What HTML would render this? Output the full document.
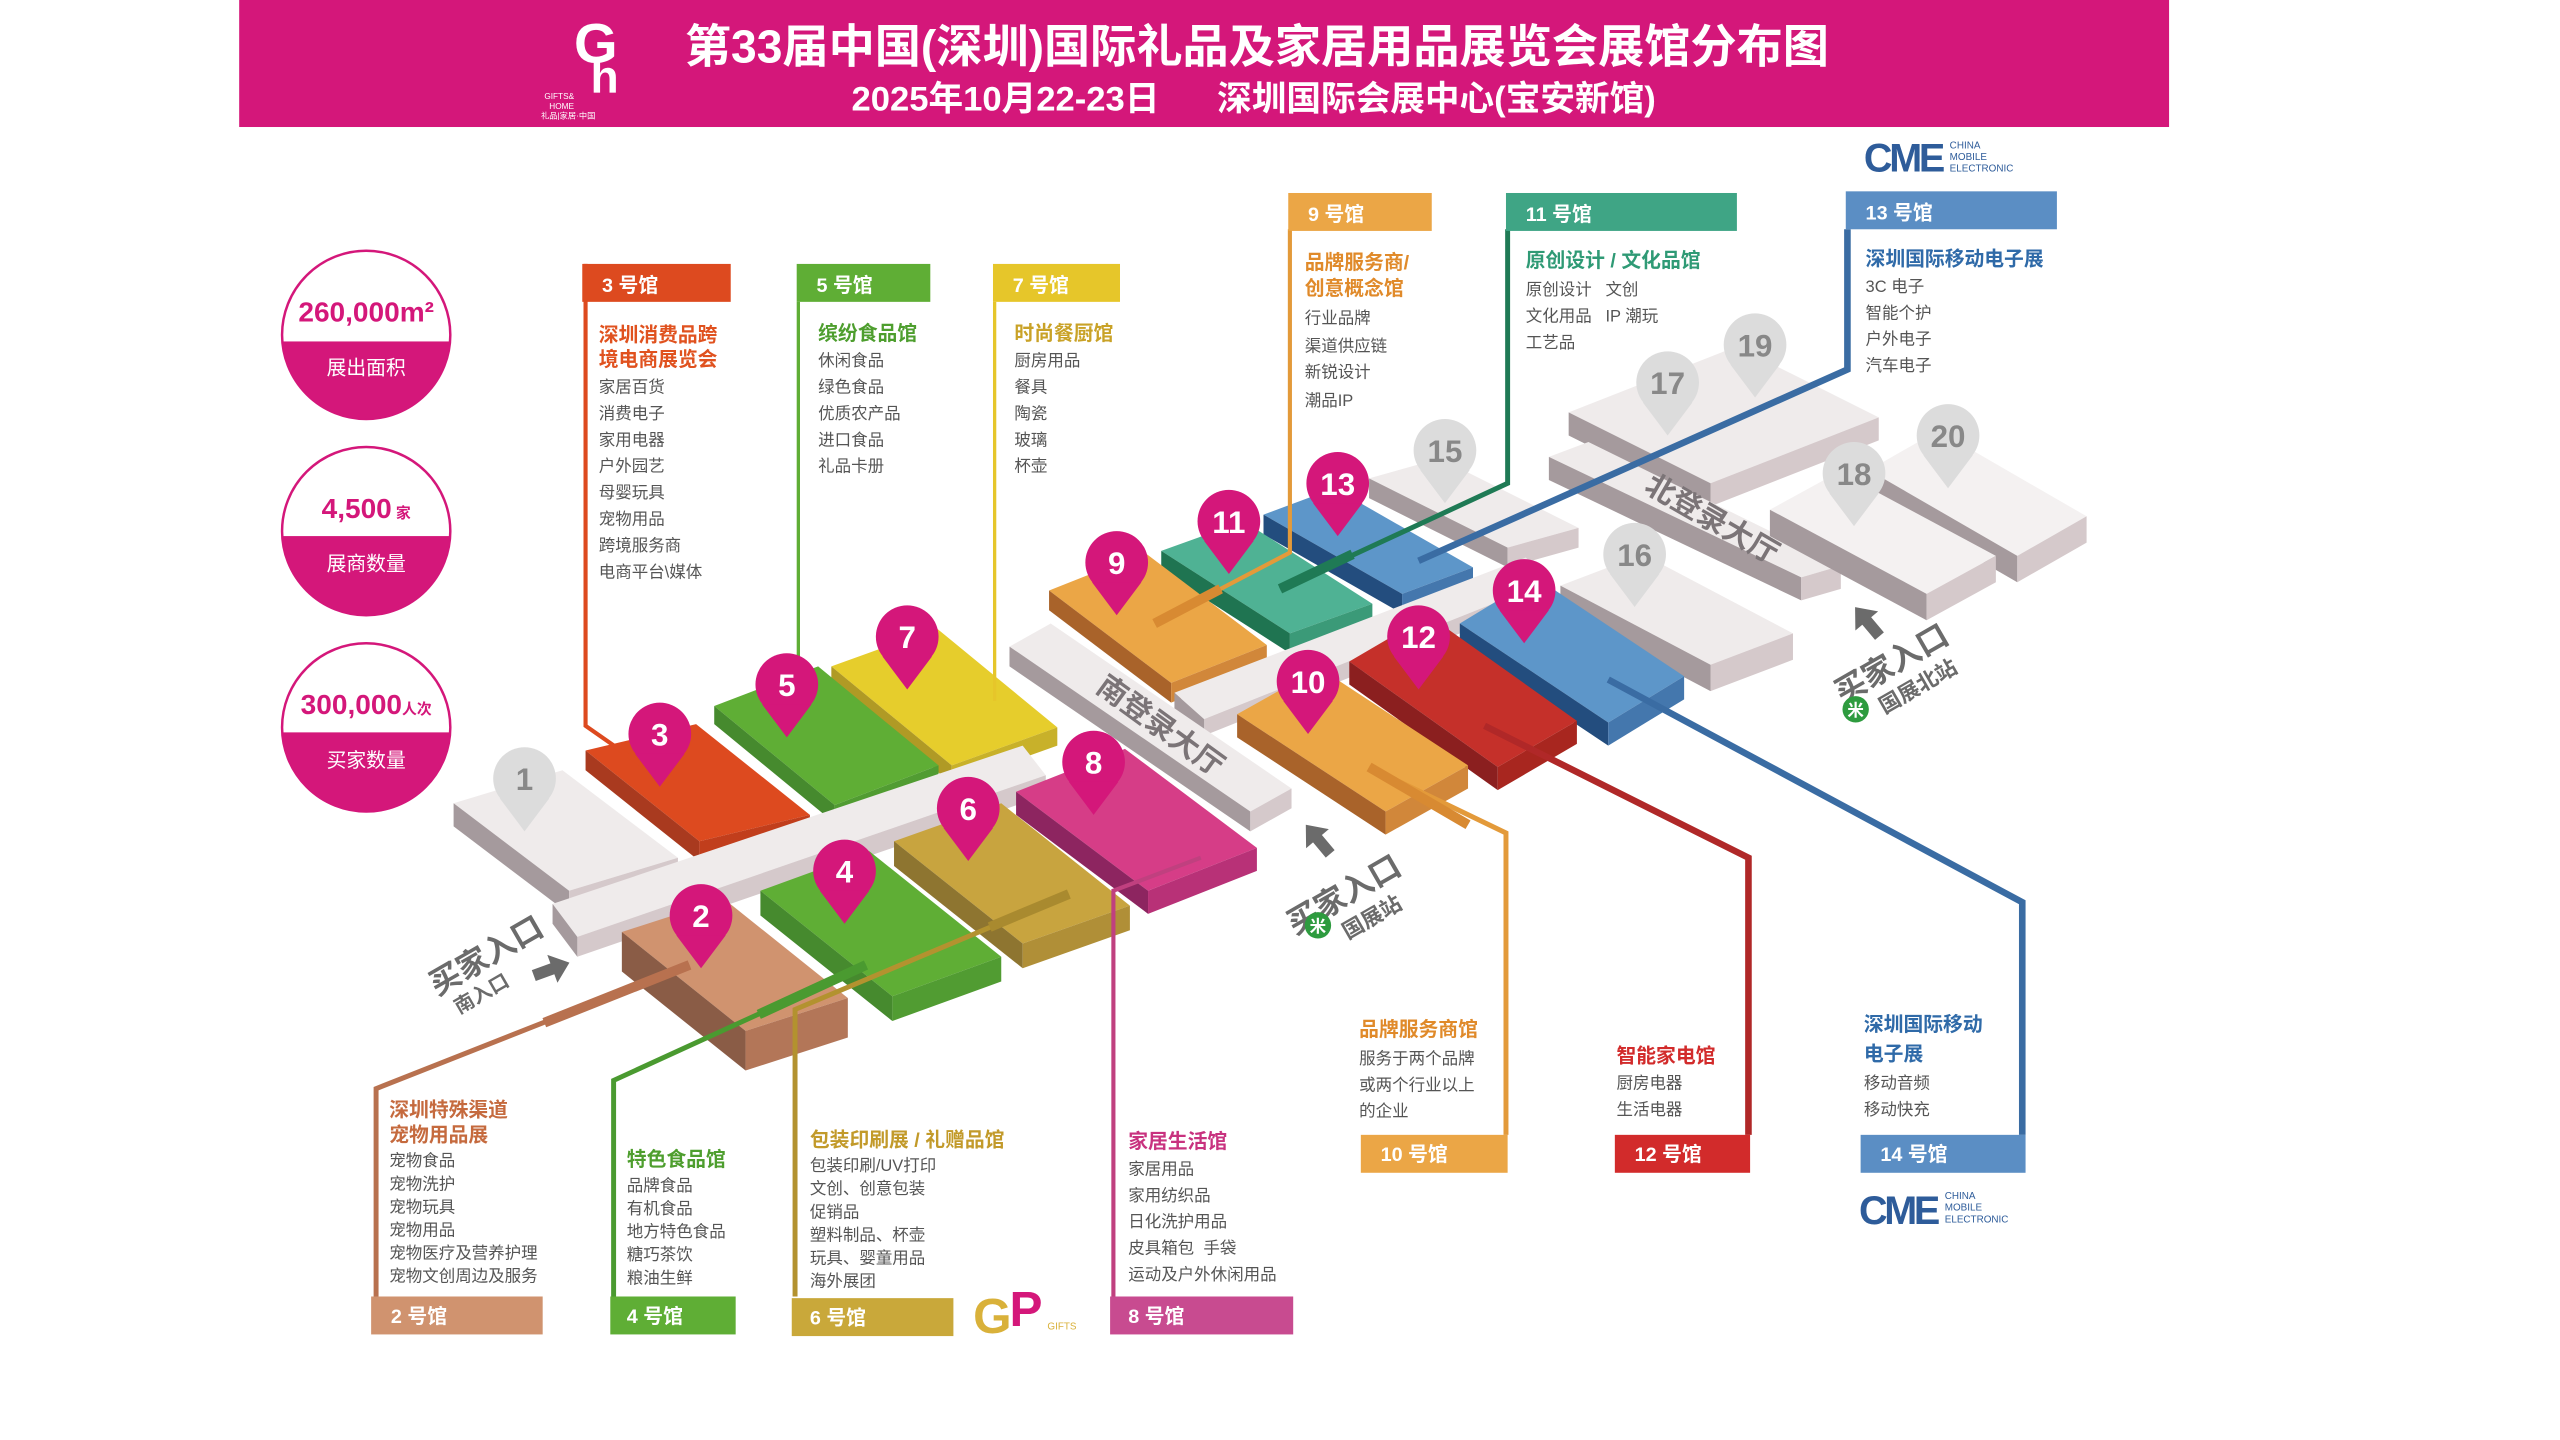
<!DOCTYPE html>
<html><head><meta charset="utf-8"><style>
html,body{margin:0;padding:0;background:#fff;}
svg{display:block;}
text{font-family:"Liberation Sans","Noto Sans CJK SC","WenQuanYi Zen Hei",sans-serif;}
.b{font-weight:bold;}
.it{font-size:10px;fill:#555;}
.hd{font-size:12px;fill:#fff;font-weight:bold;}
</style></head><body>
<svg width="2560" height="1440" viewBox="0 0 1552 873" preserveAspectRatio="none" xmlns="http://www.w3.org/2000/svg">
<rect width="1552" height="873" fill="#fff"/>
<!-- header -->
<rect x="145" y="0" width="1170" height="77" fill="#d4177a"/>
<text x="348" y="38" font-size="34" fill="#fff" class="b" font-family="Liberation Serif">G</text>
<text x="358" y="56" font-size="28" fill="#fff" class="b">h</text>
<text x="330" y="60" font-size="5" fill="#fff">GIFTS&amp;</text>
<text x="333" y="66" font-size="5" fill="#fff">HOME</text>
<text x="328" y="72" font-size="5" fill="#fff">礼品|家居·中国</text>
<text x="762" y="38" font-size="28" fill="#fff" class="b" text-anchor="middle">第33届中国(深圳)国际礼品及家居用品展览会展馆分布图</text>
<text x="760" y="67" font-size="21" fill="#fff" class="b" text-anchor="middle" xml:space="preserve">2025年10月22-23日      深圳国际会展中心(宝安新馆)</text>

<!-- stats circles -->
<g>
<defs>
<clipPath id="c1"><circle cx="222" cy="203" r="51"/></clipPath>
<clipPath id="c2"><circle cx="222" cy="322" r="51"/></clipPath>
<clipPath id="c3"><circle cx="222" cy="441" r="51"/></clipPath>
<polygon id="arr" points="0,-13 9,-2 3.5,-2 3.5,10 -3.5,10 -3.5,-2 -9,-2"/>
</defs>
<circle cx="222" cy="203" r="51" fill="#fff" stroke="#d4177a" stroke-width="1.5"/>
<rect x="160" y="207" width="130" height="60" fill="#d4177a" clip-path="url(#c1)"/>
<text x="222" y="195" font-size="17" fill="#d4177a" class="b" text-anchor="middle">260,000m²</text>
<text x="222" y="227" font-size="12" fill="#fff" text-anchor="middle">展出面积</text>
<circle cx="222" cy="322" r="51" fill="#fff" stroke="#d4177a" stroke-width="1.5"/>
<rect x="160" y="325" width="130" height="60" fill="#d4177a" clip-path="url(#c2)"/>
<text x="222" y="314" font-size="17" fill="#d4177a" class="b" text-anchor="middle">4,500<tspan font-size="9"> 家</tspan></text>
<text x="222" y="346" font-size="12" fill="#fff" text-anchor="middle">展商数量</text>
<circle cx="222" cy="441" r="51" fill="#fff" stroke="#d4177a" stroke-width="1.5"/>
<rect x="160" y="444" width="130" height="60" fill="#d4177a" clip-path="url(#c3)"/>
<text x="222" y="433" font-size="17" fill="#d4177a" class="b" text-anchor="middle">300,000<tspan font-size="9">人次</tspan></text>
<text x="222" y="465" font-size="12" fill="#fff" text-anchor="middle">买家数量</text>
</g>

<!-- north grey blocks -->
<g>
<polygon points="951,250 1053,210 1139,253 1037,293" fill="#efebeb"/><polygon points="951,250 1037,293 1037,307 951,264" fill="#a59a9d"/><polygon points="1037,293 1139,253 1139,267 1037,307" fill="#d5c9cb"/>
<polygon points="1133,285 1175,261 1265,313 1223,337" fill="#f4f1f1"/><polygon points="1133,285 1223,337 1223,353 1133,301" fill="#a59a9d"/><polygon points="1223,337 1265,313 1265,329 1223,353" fill="#d5c9cb"/>
<polygon points="830,290 873,278 957,320 914,332" fill="#efebeb"/><polygon points="830,290 914,332 914,344 830,302" fill="#a59a9d"/><polygon points="914,332 957,320 957,332 914,344" fill="#d5c9cb"/>
<polygon points="939,277 963,268 1116,343 1092,350" fill="#efebeb"/><polygon points="939,277 1092,350 1092,364 939,291" fill="#a59a9d"/><polygon points="1092,350 1116,343 1116,357 1092,364" fill="#d5c9cb"/>
<polygon points="1073,309 1115,286 1210,337 1168,360" fill="#f4f1f1"/><polygon points="1073,309 1168,360 1168,376 1073,325" fill="#a59a9d"/><polygon points="1168,360 1210,337 1210,353 1168,376" fill="#d5c9cb"/>
<text x="1035" y="320" font-size="18" fill="#7b7477" class="b" transform="rotate(30 1035 320)" text-anchor="middle">北登录大厅</text>
</g>
<!-- north row halls 13,11,9 -->
<polygon points="766,312 809,296 893,344 850,360" fill="#5d96c9"/><polygon points="766,312 850,360 850,372 766,324" fill="#234d7e"/><polygon points="850,360 893,344 893,356 850,372" fill="#4477ad"/>
<polygon points="704,334 754,316 832,366 782,384" fill="#4fb294"/><polygon points="704,334 782,384 782,396 704,346" fill="#1f7451"/><polygon points="782,384 832,366 832,378 782,396" fill="#3b9a78"/>
<polygon points="636,358 694,335 768,391 710,414" fill="#eba646"/><polygon points="636,358 710,414 710,426 636,370" fill="#a9632a"/><polygon points="710,414 768,391 768,403 710,426" fill="#d1873a"/>
<!-- north corridor -->
<polygon points="712,420 925,338 940,352 730,436" fill="#efebeb"/><polygon points="730,436 940,352 940,362 730,446" fill="#d5c9cb"/><polygon points="712,420 730,436 730,446 712,430" fill="#a59a9d"/>
<!-- hall 16 -->
<polygon points="946,355 996,336 1087,384 1037,403" fill="#efebeb"/><polygon points="946,355 1037,403 1037,419 946,371" fill="#a59a9d"/><polygon points="1037,403 1087,384 1087,400 1037,419" fill="#d5c9cb"/>
<!-- 14,12,10 -->
<polygon points="885,378 931,350 1021,410 975,438" fill="#5d96c9"/><polygon points="885,378 975,438 975,452 885,392" fill="#234d7e"/><polygon points="975,438 1021,410 1021,424 975,452" fill="#4477ad"/>
<polygon points="818,401 866,373 956,437 908,465" fill="#c5302a"/><polygon points="818,401 908,465 908,479 818,415" fill="#8b1f1f"/><polygon points="908,465 956,437 956,451 908,479" fill="#a8261f"/>
<polygon points="750,433 800,405 890,464 840,492" fill="#eba646"/><polygon points="750,433 840,492 840,506 750,447" fill="#a9632a"/><polygon points="840,492 890,464 890,478 840,506" fill="#d1873a"/>
<!-- 南登录大厅 -->
<polygon points="612,392 637,378 783,478 758,492" fill="#efebeb"/><polygon points="612,392 758,492 758,504 612,404" fill="#a59a9d"/><polygon points="758,492 783,478 783,490 758,504" fill="#d5c9cb"/>
<text x="700" y="445" font-size="18" fill="#7b7477" class="b" transform="rotate(36 700 445)" text-anchor="middle">南登录大厅</text>
<!-- south back row 7,5,3,1 -->
<polygon points="504,404 568,381 641,441 577,464" fill="#e6cd2c"/><polygon points="504,404 577,464 577,475 504,415" fill="#b09a25"/><polygon points="577,464 641,441 641,452 577,475" fill="#c8b12a"/>
<polygon points="433,428 496,404 569,464 506,488" fill="#5fae35"/><polygon points="433,428 506,488 506,499 433,439" fill="#468a2e"/><polygon points="506,488 569,464 569,475 506,499" fill="#519c32"/>
<polygon points="355,455 422,439 491,494 424,510" fill="#dd4a1f"/><polygon points="355,455 424,510 424,522 355,467" fill="#a93a1f"/><polygon points="424,510 491,494 491,506 424,522" fill="#c13e1c"/>
<polygon points="275,487 341,467 411,520 345,540" fill="#efebeb"/><polygon points="275,487 345,540 345,554 275,501" fill="#a59a9d"/><polygon points="345,540 411,520 411,534 345,554" fill="#d5c9cb"/>
<!-- south corridor -->
<polygon points="335,548 620,452 634,470 350,568" fill="#efebeb"/><polygon points="350,568 634,470 634,482 350,580" fill="#d5c9cb"/><polygon points="335,548 350,568 350,580 335,560" fill="#a59a9d"/>
<!-- front row 8,6,4,2 -->
<polygon points="616,480 682,454 762,514 696,540" fill="#d63d87"/><polygon points="616,480 696,540 696,554 616,494" fill="#8d2560"/><polygon points="696,540 762,514 762,528 696,554" fill="#b83177"/>
<polygon points="542,510 607,487 685,549 620,572" fill="#c8a43f"/><polygon points="542,510 620,572 620,587 542,525" fill="#8e7530"/><polygon points="620,572 685,549 685,564 620,587" fill="#b08f37"/>
<polygon points="461,540 527,516 607,580 541,604" fill="#5fae35"/><polygon points="461,540 541,604 541,619 461,555" fill="#468a2e"/><polygon points="541,604 607,580 607,595 541,619" fill="#519c32"/>
<polygon points="377,565 439,545 514,605 452,625" fill="#d0936f"/><polygon points="377,565 452,625 452,649 377,589" fill="#8a5c46"/><polygon points="452,625 514,605 514,629 452,649" fill="#b37658"/>

<!-- leader lines -->
<g fill="none" stroke-linejoin="miter">
<polyline points="355,160 355,440 405,475" stroke="#dd4a1f" stroke-width="2.5"/>
<polyline points="484,183 484,398" stroke="#5fae35" stroke-width="2"/>
<polyline points="603,183 603,425" stroke="#e6c62a" stroke-width="2"/>
<polyline points="782,139 782,335 700,378" stroke="#e39a3a" stroke-width="2.5"/>
<line x1="740" y1="357" x2="700" y2="378" stroke="#d88a32" stroke-width="6"/>
<polyline points="914,139 914,293 776,357" stroke="#1f7a55" stroke-width="3"/>
<line x1="820" y1="336" x2="776" y2="357" stroke="#1f7a55" stroke-width="6"/>
<polyline points="1120,139 1120,224 860,340" stroke="#3a6ca3" stroke-width="4"/>
<polyline points="418,585 228,660 228,786" stroke="#b8714f" stroke-width="3"/>
<line x1="418" y1="585" x2="330" y2="620" stroke="#b8714f" stroke-width="6"/>
<polyline points="525,585 372,655 372,786" stroke="#4a9a30" stroke-width="3"/>
<line x1="525" y1="585" x2="460" y2="615" stroke="#4a9a30" stroke-width="6"/>
<polyline points="648,542 482,612 482,786" stroke="#b3922f" stroke-width="3"/>
<line x1="648" y1="542" x2="600" y2="562" stroke="#a98a2f" stroke-width="6"/>
<polyline points="728,520 675,540 675,786" stroke="#c0407f" stroke-width="2.5"/>
<polyline points="830,465 913,505 913,688" stroke="#e39a3a" stroke-width="3"/>
<line x1="830" y1="465" x2="890" y2="500" stroke="#d88a32" stroke-width="6"/>
<polyline points="900,440 1060,520 1060,688" stroke="#b02828" stroke-width="4"/>
<polyline points="975,412 1226,547 1226,688" stroke="#3a6ca3" stroke-width="4"/>
</g>

<!-- pins -->
<g font-weight="bold" text-anchor="middle" font-size="19">
<g fill="#dcdcdc"><circle cx="318" cy="472" r="19"/><polygon points="303,484 333,484 318,504"/>
<circle cx="876" cy="273" r="19"/><polygon points="861,285 891,285 876,305"/>
<circle cx="1011" cy="232" r="19"/><polygon points="996,244 1026,244 1011,264"/>
<circle cx="1064" cy="209" r="19"/><polygon points="1049,221 1079,221 1064,241"/>
<circle cx="991" cy="336" r="19"/><polygon points="976,348 1006,348 991,368"/>
<circle cx="1124" cy="287" r="19"/><polygon points="1109,299 1139,299 1124,319"/>
<circle cx="1181" cy="264" r="19"/><polygon points="1166,276 1196,276 1181,296"/></g>
<g fill="#888"><text x="318" y="479">1</text><text x="876" y="280">15</text><text x="1011" y="239">17</text><text x="1064" y="216">19</text><text x="991" y="343">16</text><text x="1124" y="294">18</text><text x="1181" y="271">20</text></g>
<g fill="#d4177a">
<circle cx="400" cy="445" r="19"/><polygon points="385,457 415,457 400,477"/>
<circle cx="477" cy="415" r="19"/><polygon points="462,427 492,427 477,447"/>
<circle cx="550" cy="386" r="19"/><polygon points="535,398 565,398 550,418"/>
<circle cx="425" cy="555" r="19"/><polygon points="410,567 440,567 425,587"/>
<circle cx="512" cy="528" r="19"/><polygon points="497,540 527,540 512,560"/>
<circle cx="587" cy="490" r="19"/><polygon points="572,502 602,502 587,522"/>
<circle cx="663" cy="462" r="19"/><polygon points="648,474 678,474 663,494"/>
<circle cx="677" cy="341" r="19"/><polygon points="662,353 692,353 677,373"/>
<circle cx="745" cy="316" r="19"/><polygon points="730,328 760,328 745,348"/>
<circle cx="811" cy="293" r="19"/><polygon points="796,305 826,305 811,325"/>
<circle cx="793" cy="413" r="19"/><polygon points="778,425 808,425 793,445"/>
<circle cx="860" cy="386" r="19"/><polygon points="845,398 875,398 860,418"/>
<circle cx="924" cy="358" r="19"/><polygon points="909,370 939,370 924,390"/>
</g>
<g fill="#fff"><text x="400" y="452">3</text><text x="477" y="422">5</text><text x="550" y="393">7</text><text x="425" y="562">2</text><text x="512" y="535">4</text><text x="587" y="497">6</text><text x="663" y="469">8</text><text x="677" y="348">9</text><text x="745" y="323">11</text><text x="811" y="300">13</text><text x="793" y="420">10</text><text x="860" y="393">12</text><text x="924" y="365">14</text></g>
</g>

<!-- entrances -->
<g fill="#6b6b6b" font-weight="bold">
<text x="298" y="585" font-size="19" transform="rotate(-30 298 585)" text-anchor="middle">买家入口</text>
<text x="294" y="606" font-size="12" transform="rotate(-30 294 606)" text-anchor="middle">南入口</text>
<use href="#arr" transform="translate(333,588) rotate(70)"/>
<use href="#arr" transform="translate(800,510) rotate(-40)"/>
<text x="818" y="548" font-size="19" transform="rotate(-30 818 548)" text-anchor="middle">买家入口</text>
<circle cx="799" cy="561" r="8" fill="#2e9b3f"/><text x="799" y="565" font-size="10" fill="#fff" text-anchor="middle">米</text>
<text x="834" y="560" font-size="13" transform="rotate(-30 834 560)" text-anchor="middle">国展站</text>
<use href="#arr" transform="translate(1133,378) rotate(-40)"/>
<text x="1150" y="408" font-size="19" transform="rotate(-30 1150 408)" text-anchor="middle">买家入口</text>
<circle cx="1125" cy="430" r="8" fill="#2e9b3f"/><text x="1125" y="434" font-size="10" fill="#fff" text-anchor="middle">米</text>
<text x="1165" y="420" font-size="13" transform="rotate(-30 1165 420)" text-anchor="middle">国展北站</text>
</g>

<!-- top labels -->
<rect x="353" y="160" width="90" height="23" fill="#dd4a1f"/><text x="365" y="177" class="hd">3 号馆</text>
<text x="363" y="207" font-size="12" fill="#e0521f" class="b">深圳消费品跨</text>
<text x="363" y="222" font-size="12" fill="#e0521f" class="b">境电商展览会</text>
<g class="it"><text x="363" y="238" class="it">家居百货</text><text x="363" y="254" class="it">消费电子</text><text x="363" y="270" class="it">家用电器</text><text x="363" y="286" class="it">户外园艺</text><text x="363" y="302" class="it">母婴玩具</text><text x="363" y="318" class="it">宠物用品</text><text x="363" y="334" class="it">跨境服务商</text><text x="363" y="350" class="it">电商平台\媒体</text></g>

<rect x="483" y="160" width="81" height="23" fill="#5fae35"/><text x="495" y="177" class="hd">5 号馆</text>
<text x="496" y="206" font-size="12" fill="#4e9e2e" class="b">缤纷食品馆</text>
<text x="496" y="222" class="it">休闲食品</text><text x="496" y="238" class="it">绿色食品</text><text x="496" y="254" class="it">优质农产品</text><text x="496" y="270" class="it">进口食品</text><text x="496" y="286" class="it">礼品卡册</text>

<rect x="602" y="160" width="77" height="23" fill="#e6c62a"/><text x="614" y="177" class="hd">7 号馆</text>
<text x="615" y="206" font-size="12" fill="#c9a227" class="b">时尚餐厨馆</text>
<text x="615" y="222" class="it">厨房用品</text><text x="615" y="238" class="it">餐具</text><text x="615" y="254" class="it">陶瓷</text><text x="615" y="270" class="it">玻璃</text><text x="615" y="286" class="it">杯壶</text>

<rect x="781" y="117" width="87" height="23" fill="#eba646"/><text x="793" y="134" class="hd">9 号馆</text>
<text x="791" y="163" font-size="12" fill="#e08a2a" class="b">品牌服务商/</text>
<text x="791" y="179" font-size="12" fill="#e08a2a" class="b">创意概念馆</text>
<text x="791" y="196" class="it">行业品牌</text><text x="791" y="213" class="it">渠道供应链</text><text x="791" y="229" class="it">新锐设计</text><text x="791" y="246" class="it">潮品IP</text>

<rect x="913" y="117" width="140" height="23" fill="#3fa585"/><text x="925" y="134" class="hd">11 号馆</text>
<text x="925" y="162" font-size="12" fill="#2f9a75" class="b">原创设计 / 文化品馆</text>
<text x="925" y="179" class="it" xml:space="preserve">原创设计   文创</text><text x="925" y="195" class="it" xml:space="preserve">文化用品   IP 潮玩</text><text x="925" y="211" class="it">工艺品</text>

<text x="1130" y="104" font-size="24" fill="#2e5c9a" class="b" letter-spacing="-2">CME</text>
<text x="1182" y="90" font-size="6" fill="#2e5c9a">CHINA</text><text x="1182" y="97" font-size="6" fill="#2e5c9a">MOBILE</text><text x="1182" y="104" font-size="6" fill="#2e5c9a">ELECTRONIC</text>
<rect x="1119" y="116" width="128" height="23" fill="#5b8ec4"/><text x="1131" y="133" class="hd">13 号馆</text>
<text x="1131" y="161" font-size="12" fill="#2f6aa8" class="b">深圳国际移动电子展</text>
<text x="1131" y="177" class="it">3C 电子</text><text x="1131" y="193" class="it">智能个护</text><text x="1131" y="209" class="it">户外电子</text><text x="1131" y="225" class="it">汽车电子</text>

<!-- bottom labels -->
<text x="236" y="677" font-size="12" fill="#c56a3e" class="b">深圳特殊渠道</text>
<text x="236" y="692" font-size="12" fill="#c56a3e" class="b">宠物用品展</text>
<text x="236" y="707" class="it">宠物食品</text><text x="236" y="721" class="it">宠物洗护</text><text x="236" y="735" class="it">宠物玩具</text><text x="236" y="749" class="it">宠物用品</text><text x="236" y="763" class="it">宠物医疗及营养护理</text><text x="236" y="777" class="it">宠物文创周边及服务</text>
<rect x="225" y="786" width="104" height="23" fill="#d0936f"/><text x="237" y="802" class="hd">2 号馆</text>

<text x="380" y="707" font-size="12" fill="#4e9e2e" class="b">特色食品馆</text>
<text x="380" y="722" class="it">品牌食品</text><text x="380" y="736" class="it">有机食品</text><text x="380" y="750" class="it">地方特色食品</text><text x="380" y="764" class="it">糖巧茶饮</text><text x="380" y="778" class="it">粮油生鲜</text>
<rect x="370" y="786" width="76" height="23" fill="#5fae35"/><text x="380" y="802" class="hd">4 号馆</text>

<text x="491" y="695" font-size="12" fill="#c29a2a" class="b">包装印刷展 / 礼赠品馆</text>
<text x="491" y="710" class="it">包装印刷/UV打印</text><text x="491" y="724" class="it">文创、创意包装</text><text x="491" y="738" class="it">促销品</text><text x="491" y="752" class="it">塑料制品、杯壶</text><text x="491" y="766" class="it">玩具、婴童用品</text><text x="491" y="780" class="it">海外展团</text>
<rect x="480" y="787" width="98" height="23" fill="#c9a83a"/><text x="491" y="803" class="hd">6 号馆</text>
<text x="590" y="808" font-size="30" fill="#d9b13a" class="b">G</text><text x="612" y="804" font-size="30" fill="#d4177a" class="b">P</text><text x="635" y="806" font-size="6" fill="#d9b13a">GIFTS</text>

<text x="684" y="696" font-size="12" fill="#c8327f" class="b">家居生活馆</text>
<text x="684" y="712" class="it">家居用品</text><text x="684" y="728" class="it">家用纺织品</text><text x="684" y="744" class="it">日化洗护用品</text><text x="684" y="760" class="it" xml:space="preserve">皮具箱包  手袋</text><text x="684" y="776" class="it">运动及户外休闲用品</text>
<rect x="673" y="786" width="111" height="23" fill="#c84b90"/><text x="684" y="802" class="hd">8 号馆</text>

<text x="824" y="628" font-size="12" fill="#e08a2a" class="b">品牌服务商馆</text>
<text x="824" y="645" class="it">服务于两个品牌</text><text x="824" y="661" class="it">或两个行业以上</text><text x="824" y="677" class="it">的企业</text>
<rect x="825" y="688" width="89" height="23" fill="#eba646"/><text x="837" y="704" class="hd">10 号馆</text>

<text x="980" y="644" font-size="12" fill="#d22b2b" class="b">智能家电馆</text>
<text x="980" y="660" class="it">厨房电器</text><text x="980" y="676" class="it">生活电器</text>
<rect x="979" y="688" width="82" height="23" fill="#d22b2b"/><text x="991" y="704" class="hd">12 号馆</text>

<text x="1130" y="625" font-size="12" fill="#2f6aa8" class="b">深圳国际移动</text>
<text x="1130" y="643" font-size="12" fill="#2f6aa8" class="b">电子展</text>
<text x="1130" y="660" class="it">移动音频</text><text x="1130" y="676" class="it">移动快充</text>
<rect x="1128" y="688" width="100" height="23" fill="#5b8ec4"/><text x="1140" y="704" class="hd">14 号馆</text>
<text x="1127" y="742" font-size="24" fill="#2e5c9a" class="b" letter-spacing="-2">CME</text>
<text x="1179" y="727" font-size="6" fill="#2e5c9a">CHINA</text><text x="1179" y="734" font-size="6" fill="#2e5c9a">MOBILE</text><text x="1179" y="741" font-size="6" fill="#2e5c9a">ELECTRONIC</text>
</svg>
</body></html>
